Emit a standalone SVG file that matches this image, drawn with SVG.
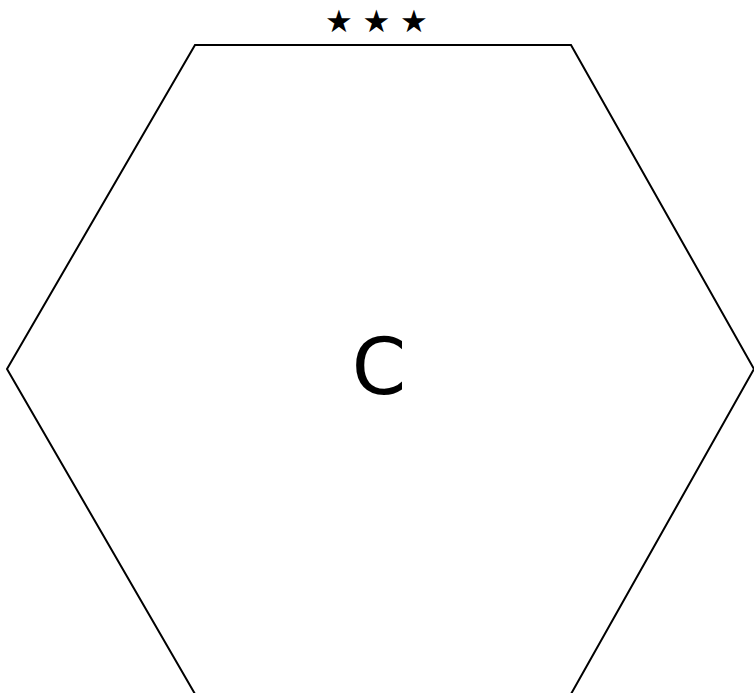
<svg xmlns="http://www.w3.org/2000/svg" width="754" height="693" viewBox="0 0 754 693">
<style>
.hex{fill:#fff;stroke:#000;stroke-width:2}
.lbl{font-family:"DejaVu Sans",sans-serif;fill:#000;text-anchor:middle}
.star{font-size:31px}
</style>
<rect width="754" height="693" fill="#fff"/>
<g id="node-C">
<polygon class="hex" points="195,45 571,45 754,369 571,694 195,694 7,369"/>
<text class="lbl" x="379" y="394" font-size="78">C</text>
<text class="lbl star" x="339" y="32">★</text>
<text class="lbl star" x="376.5" y="32">★</text>
<text class="lbl star" x="414" y="32">★</text>
</g>
<g id="connectors"></g>
</svg>
